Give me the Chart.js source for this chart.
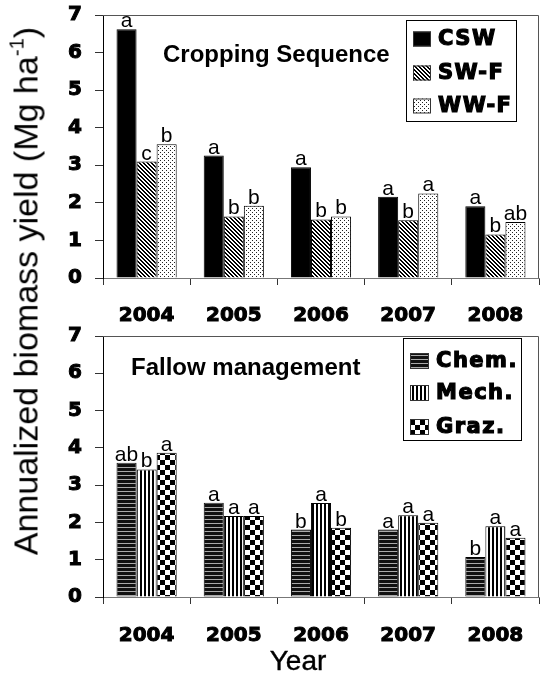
<!DOCTYPE html>
<html>
<head>
<meta charset="utf-8">
<script src="https://cdn.jsdelivr.net/npm/chart.js@4.4.1/dist/chart.umd.min.js"></script>
<style>
  html, body { margin: 0; padding: 0; background: #fff; }
  #wrap { position: relative; width: 540px; height: 686px; overflow: hidden; }
  #topChart { position: absolute; left: 0; top: 0; }
  #botChart { position: absolute; left: 0; top: 300px; }
  #yTitle {
    position: absolute; left: 26px; top: 291px;
    transform: translate(-50%, -50%) rotate(-90deg);
    white-space: nowrap; line-height: 1;
    font: 34px "Liberation Sans", Arial, sans-serif; color: #000;
  }
  #yTitle sup { font-size: 0.6em; vertical-align: 0.7em; line-height: 0; }
  #xTitle {
    position: absolute; left: 298px; top: 661px;
    transform: translate(-50%, -50%);
    white-space: nowrap; line-height: 1;
    font: 28px "Liberation Sans", Arial, sans-serif; color: #000;
    -webkit-text-stroke: 0.4px #000;
  }
</style>
</head>
<body>
<div id="wrap">
  <canvas id="topChart" width="540" height="330"></canvas>
  <canvas id="botChart" width="540" height="386"></canvas>
  <div id="yTitle">Annualized biomass yield (Mg ha<sup>-1</sup>)</div>
  <div id="xTitle">Year</div>
</div>
<script>
// data
var years = ['2004', '2005', '2006', '2007', '2008'];
var yTicks = [0, 1, 2, 3, 4, 5, 6, 7];

// cropping sequence (top panel)
var cswYield = [6.62, 3.26, 2.95, 2.16, 1.91];
var swfYield = [3.10, 1.64, 1.56, 1.54, 1.16];
var wwfYield = [3.56, 1.92, 1.64, 2.25, 1.49];
var cswLetters = ['a', 'a', 'a', 'a', 'a'];
var swfLetters = ['c', 'b', 'b', 'b', 'b'];
var wwfLetters = ['b', 'b', 'b', 'a', 'ab'];

// fallow management (bottom panel)
var chemYield = [3.60, 2.53, 1.81, 1.81, 1.07];
var mechYield = [3.42, 2.17, 2.52, 2.19, 1.90];
var grazYield = [3.87, 2.17, 1.86, 1.99, 1.59];
var chemLetters = ['ab', 'a', 'b', 'a', 'b'];
var mechLetters = ['b', 'a', 'a', 'a', 'a'];
var grazLetters = ['a', 'a', 'b', 'a', 'a'];

Chart.defaults.font.family = '"Liberation Sans", Arial, sans-serif';
Chart.defaults.color = '#000';

// little tiles for the black & white fills
function makePattern(w, h, paint) {
  var c = document.createElement('canvas');
  c.width = w; c.height = h;
  var g = c.getContext('2d');
  g.fillStyle = '#fff';
  g.fillRect(0, 0, w, h);
  g.fillStyle = '#000';
  paint(g);
  return g.createPattern(c, 'repeat');
}
var hatchFill = makePattern(4, 4, function(g) {
  for (var y = 0; y < 4; y++) for (var x = 0; x < 4; x++) {
    if (((x - y) % 4 + 4) % 4 < 2) g.fillRect(x, y, 1, 1);
  }
});
var dotFill = makePattern(4, 4, function(g) {
  g.fillStyle = '#222';
  g.fillRect(0, 0, 1, 1);
  g.fillRect(2, 2, 1, 1);
});
var hStripeFill = makePattern(4, 4, function(g) {
  g.fillStyle = '#111';
  g.fillRect(0, 0, 4, 3);
  g.fillStyle = '#aaa';
  g.fillRect(0, 3, 4, 1);
});
var vStripeFill = makePattern(4, 4, function(g) {
  g.fillRect(0, 0, 2, 4);
});
var checkFill = makePattern(10, 10, function(g) {
  g.fillRect(0, 0, 5, 5);
  g.fillRect(5, 5, 5, 5);
});

var panelPlugin = {
  id: 'panel',
  afterDatasetsDraw: function(chart) {
    var ctx = chart.ctx;
    var a = chart.chartArea;
    var o = chart.options.plugins.panel;
    ctx.save();

    // significance letters over each bar
    ctx.font = '21px "Liberation Sans", Arial, sans-serif';
    ctx.fillStyle = '#000';
    ctx.textAlign = 'center';
    ctx.textBaseline = 'alphabetic';
    chart.data.datasets.forEach(function(ds, i) {
      chart.getDatasetMeta(i).data.forEach(function(bar, j) {
        ctx.fillText(ds.letters[j], bar.x, bar.y - 2);
      });
    });

    // top + right frame
    ctx.strokeStyle = '#555';
    ctx.lineWidth = 1;
    ctx.beginPath();
    ctx.moveTo(a.left, Math.round(a.top) + 0.5);
    ctx.lineTo(Math.round(a.right) - 0.5, Math.round(a.top) + 0.5);
    ctx.lineTo(Math.round(a.right) - 0.5, a.bottom);
    ctx.stroke();

    // panel title
    ctx.font = 'bold 24px "Liberation Sans", Arial, sans-serif';
    ctx.textAlign = 'left';
    ctx.textBaseline = 'middle';
    ctx.fillText(o.title, o.titleX, o.titleY);

    // legend box
    var L = o.legend;
    ctx.fillStyle = '#fff';
    ctx.fillRect(L.x, L.y, L.w, L.h);
    ctx.strokeStyle = '#000';
    ctx.strokeRect(L.x + 0.5, L.y + 0.5, L.w, L.h);
    ctx.font = 'bold 21px "DejaVu Sans", sans-serif';
    if ('letterSpacing' in ctx) ctx.letterSpacing = '1.5px';
    chart.data.datasets.forEach(function(ds, i) {
      var cy = L.rows[i];
      ctx.fillStyle = ds.backgroundColor;
      ctx.fillRect(L.swX, cy - L.swH / 2, L.swW, L.swH);
      ctx.strokeStyle = '#333';
      ctx.lineWidth = 1;
      ctx.strokeRect(L.swX + 0.5, cy - L.swH / 2 + 0.5, L.swW - 1, L.swH - 1);
      ctx.fillStyle = '#000';
      ctx.strokeStyle = '#000';
      ctx.lineWidth = 1.2;
      ctx.fillText(ds.label, L.textX, cy + 1);
      ctx.strokeText(ds.label, L.textX, cy + 1);
    });
    ctx.restore();
  }
};

var heavyTicks = { family: '"DejaVu Sans", sans-serif', size: 20, weight: 'bold' };

function scalesFor(yAxisWidth, xAxisHeight, labelPad) {
  return {
    x: {
      type: 'category',
      offset: true,
      grid: { offset: true, drawOnChartArea: false, drawTicks: true, tickLength: 7, color: '#333' },
      border: { display: true, color: '#777', width: 1 },
      ticks: { font: heavyTicks, color: '#000', padding: labelPad, maxRotation: 0, textStrokeColor: '#000', textStrokeWidth: 1 },
      afterFit: function(s) { s.height = xAxisHeight; s.paddingLeft = 0; s.paddingRight = 0; }
    },
    y: {
      min: 0, max: 7,
      afterBuildTicks: function(s) { s.ticks = yTicks.map(function(v) { return { value: v }; }); },
      grid: { drawOnChartArea: false, drawTicks: true, tickLength: 8, color: '#333' },
      border: { display: true, color: '#000', width: 1 },
      ticks: { font: heavyTicks, color: '#000', padding: 13, textStrokeColor: '#000', textStrokeWidth: 1 },
      afterFit: function(s) { s.width = yAxisWidth; s.paddingTop = 0; s.paddingBottom = 0; }
    }
  };
}

function barSet(label, values, fill, letters) {
  return {
    label: label,
    data: values,
    letters: letters,
    backgroundColor: fill,
    borderColor: '#000',
    borderWidth: 1,
    categoryPercentage: 0.69,
    barPercentage: 1
  };
}

new Chart(document.getElementById('topChart').getContext('2d'), {
  type: 'bar',
  data: {
    labels: years,
    datasets: [
      barSet('CSW', cswYield, '#000', cswLetters),
      barSet('SW-F', swfYield, hatchFill, swfLetters),
      barSet('WW-F', wwfYield, dotFill, wwfLetters)
    ]
  },
  options: {
    responsive: false,
    animation: false,
    layout: { padding: { left: 0, right: 1, top: 15, bottom: 0 } },
    scales: scalesFor(103, 52, 19),
    plugins: {
      legend: { display: false },
      tooltip: { enabled: false },
      panel: {
        title: 'Cropping Sequence', titleX: 163, titleY: 55,
        legend: { x: 406, y: 20, w: 110, h: 101, rows: [39, 73, 106], swX: 413, swW: 18, swH: 15, textX: 438 }
      }
    }
  },
  plugins: [panelPlugin]
});

new Chart(document.getElementById('botChart').getContext('2d'), {
  type: 'bar',
  data: {
    labels: years,
    datasets: [
      barSet('Chem.', chemYield, hStripeFill, chemLetters),
      barSet('Mech.', mechYield, vStripeFill, mechLetters),
      barSet('Graz.', grazYield, checkFill, grazLetters)
    ]
  },
  options: {
    responsive: false,
    animation: false,
    layout: { padding: { left: 0, right: 1, top: 36, bottom: 0 } },
    scales: scalesFor(103, 89, 20),
    plugins: {
      legend: { display: false },
      tooltip: { enabled: false },
      panel: {
        title: 'Fallow management', titleX: 131, titleY: 68,
        legend: { x: 403, y: 38, w: 118, h: 102, rows: [61, 93, 127], swX: 410, swW: 19, swH: 16, textX: 436 }
      }
    }
  },
  plugins: [panelPlugin]
});
</script>
</body>
</html>
